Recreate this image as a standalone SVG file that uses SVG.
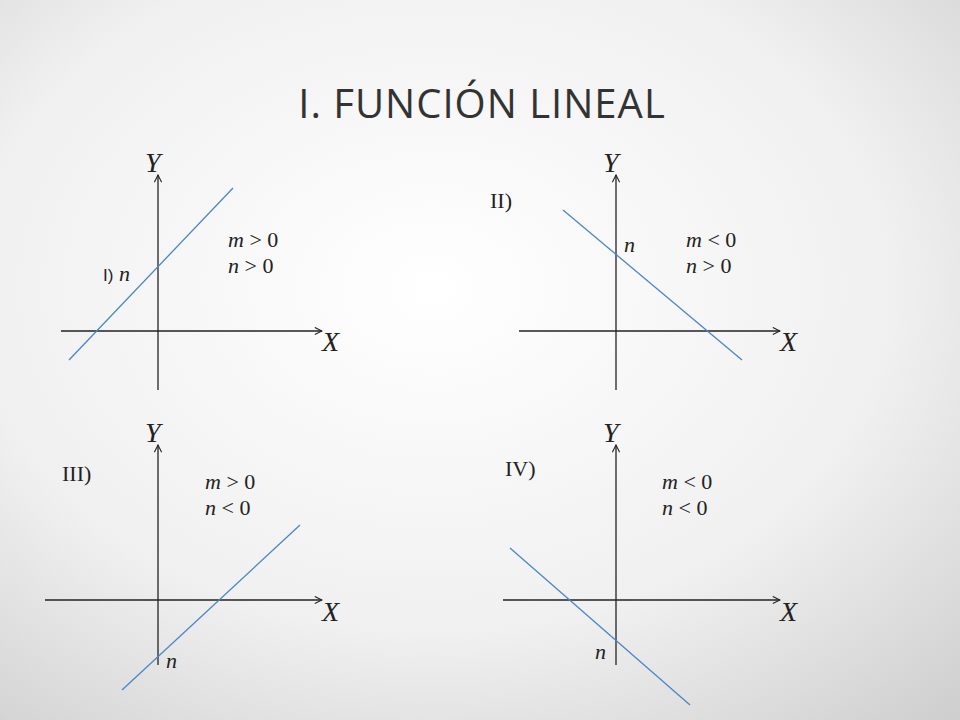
<svg xmlns="http://www.w3.org/2000/svg" width="960" height="720" viewBox="0 0 960 720">
<defs>
<radialGradient id="bg" cx="0.45" cy="0.4" r="0.8"><stop offset="0" stop-color="#ffffff"/><stop offset="0.6" stop-color="#f0f0f0"/><stop offset="1" stop-color="#cfcfcf"/></radialGradient>
<marker id="ar" viewBox="0 0 10 10" refX="9" refY="5" markerWidth="9" markerHeight="9" orient="auto" markerUnits="userSpaceOnUse"><path d="M1,1 L9,5 L1,9" fill="none" stroke="#222" stroke-width="1.2"/></marker>
</defs>
<style>
.ax{stroke:#222;stroke-width:1.3;fill:none;marker-end:url(#ar)}
.ln{stroke:#4a86c8;stroke-width:1.3}
.m{font-family:'Liberation Serif',serif;font-size:22px;fill:#222}
.v{font-family:'Liberation Serif',serif;font-size:28px;font-style:italic;fill:#222}
.i{font-style:italic}
</style>
<rect width="960" height="720" fill="url(#bg)"/>
<text x="482" y="118" text-anchor="middle" font-family="'Open Sans','Liberation Sans',sans-serif" font-size="40" fill="#333" letter-spacing="1">I. FUNCIÓN LINEAL</text>
<g id="connectors">
<line class="ax" x1="158" y1="390" x2="158" y2="175"/>
<line class="ax" x1="61" y1="331" x2="322" y2="331"/>
<line class="ln" x1="69" y1="360" x2="233" y2="188"/>
<line class="ax" x1="616" y1="390" x2="616" y2="175"/>
<line class="ax" x1="519" y1="331" x2="780" y2="331"/>
<line class="ln" x1="563" y1="210" x2="742" y2="360"/>
<line class="ax" x1="158" y1="665" x2="158" y2="445"/>
<line class="ax" x1="45" y1="600" x2="322" y2="600"/>
<line class="ln" x1="122" y1="690" x2="300" y2="525"/>
<line class="ax" x1="616" y1="665" x2="616" y2="445"/>
<line class="ax" x1="503" y1="600" x2="780" y2="600"/>
<line class="ln" x1="510" y1="548" x2="690" y2="705"/>
</g>
<g id="panel1">
<text class="v" x="145" y="172">Y</text><text class="v" x="322" y="351">X</text>
<text class="m" x="228" y="247"><tspan class="i">m</tspan> &gt; 0</text>
<text class="m" x="228" y="273"><tspan class="i">n</tspan> &gt; 0</text>
<text class="m" x="103" y="281"><tspan font-family="'Liberation Sans',sans-serif" font-size="17">I)</tspan> <tspan class="i">n</tspan></text>
</g>
<g id="panel2">
<text class="v" x="603" y="172">Y</text><text class="v" x="780" y="351">X</text>
<text class="m" x="490" y="208">II)</text>
<text class="m i" x="624" y="252">n</text>
<text class="m" x="686" y="247"><tspan class="i">m</tspan> &lt; 0</text>
<text class="m" x="686" y="273"><tspan class="i">n</tspan> &gt; 0</text>
</g>
<g id="panel3">
<text class="v" x="145" y="442">Y</text><text class="v" x="322" y="621">X</text>
<text class="m" x="62" y="481">III)</text>
<text class="m" x="205" y="489"><tspan class="i">m</tspan> &gt; 0</text>
<text class="m" x="205" y="515"><tspan class="i">n</tspan> &lt; 0</text>
<text class="m i" x="166" y="668">n</text>
</g>
<g id="panel4">
<text class="v" x="603" y="442">Y</text><text class="v" x="780" y="621">X</text>
<text class="m" x="505" y="476">IV)</text>
<text class="m" x="662" y="489"><tspan class="i">m</tspan> &lt; 0</text>
<text class="m" x="662" y="515"><tspan class="i">n</tspan> &lt; 0</text>
<text class="m i" x="595" y="659">n</text>
</g>
</svg>
